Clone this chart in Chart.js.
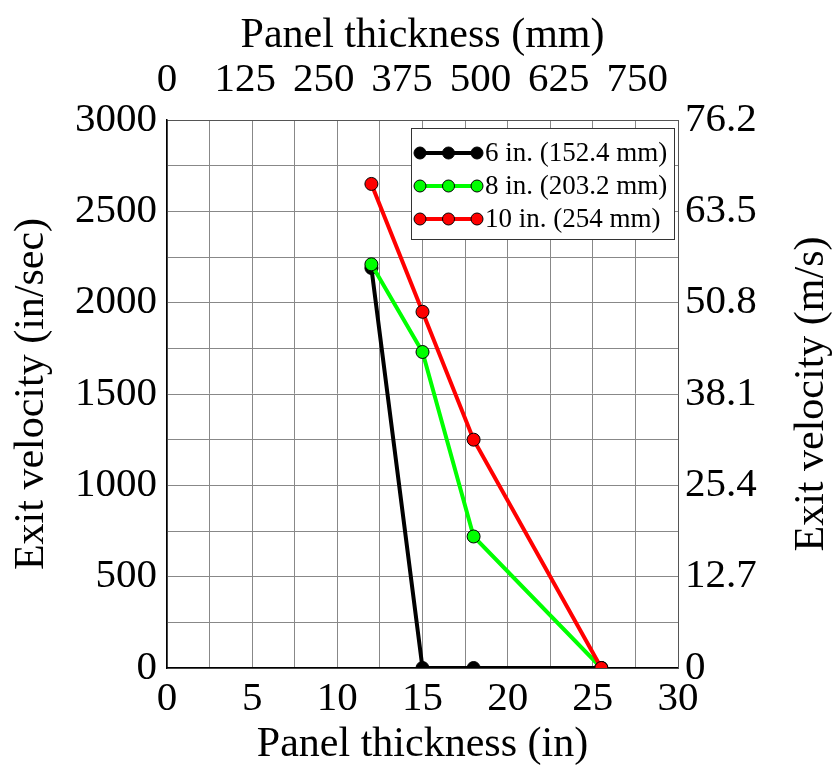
<!DOCTYPE html>
<html>
<head>
<meta charset="utf-8">
<script src="https://cdn.jsdelivr.net/npm/chart.js@4"></script>
<style>
  html, body { margin: 0; padding: 0; background: #fff; }
  #wrap { width: 834px; height: 770px; }
</style>
</head>
<body>
<div id="wrap"><canvas id="myChart" width="834" height="770"></canvas></div>
<script>
// panel thickness (in) for each test
var thickness = [12, 15, 18, 25.5];
// exit velocity (in/sec) per projectile length
var vel6 = [2190, 0, 0, 0];
var vel8 = [2210, 1730, 720, 0];
var vel10 = [2650, 1950, 1250, 0];

var seriesNames = ["6 in. (152.4 mm)", "8 in. (203.2 mm)", "10 in. (254 mm)"];
var seriesColors = ["#000000", "#00ff00", "#ff0000"];

var mmTicks = [0, 125, 250, 375, 500, 625, 750];
var msTicks = [0, 12.7, 25.4, 38.1, 50.8, 63.5, 76.2];
var rightTitle = "Exit velocity (m/s)";

var FONT = "'Liberation Serif', 'Times New Roman', serif";

function toPoints(xs, ys) {
  return xs.map(function (x, i) { return { x: x, y: ys[i] }; });
}

function makeSet(idx, vals, order) {
  return {
    label: seriesNames[idx],
    data: toPoints(thickness, vals),
    borderColor: seriesColors[idx],
    backgroundColor: seriesColors[idx],
    pointBackgroundColor: seriesColors[idx],
    pointBorderColor: "#000",
    pointBorderWidth: 1,
    pointRadius: 6.5,
    borderWidth: 4,
    fill: false,
    tension: 0,
    order: order,
    xAxisID: "x",
    yAxisID: "y"
  };
}

// legend box with line + three dots, and the right title read bottom-up
var boxLegend = {
  id: "boxLegend",
  afterDraw: function (chart) {
    var ctx = chart.ctx;
    var ds = chart.data.datasets;
    ctx.save();
    ctx.fillStyle = "#fff";
    ctx.fillRect(411, 128, 263, 111);
    ctx.strokeStyle = "#333";
    ctx.lineWidth = 1;
    ctx.strokeRect(411.5, 128.5, 263, 111);
    var rows = [153, 186, 219];
    ctx.font = "27px " + FONT;
    ctx.textBaseline = "middle";
    for (var i = 0; i < ds.length; i++) {
      var y = rows[i];
      ctx.strokeStyle = ds[i].borderColor;
      ctx.lineWidth = 4;
      ctx.beginPath();
      ctx.moveTo(420, y);
      ctx.lineTo(477, y);
      ctx.stroke();
      [420, 448.5, 477].forEach(function (x) {
        ctx.beginPath();
        ctx.arc(x, y, 6, 0, Math.PI * 2);
        ctx.fillStyle = ds[i].pointBackgroundColor;
        ctx.fill();
        ctx.lineWidth = 1;
        ctx.strokeStyle = "#000";
        ctx.stroke();
      });
      ctx.fillStyle = "#000";
      ctx.fillText(ds[i].label, 485, y + 1);
    }

    var area = chart.chartArea;
    ctx.translate(812, (area.top + area.bottom) / 2);
    ctx.rotate(-Math.PI / 2);
    ctx.font = "42px " + FONT;
    ctx.textAlign = "center";
    ctx.textBaseline = "middle";
    ctx.fillStyle = "#000";
    ctx.fillText(rightTitle, 0, 0);
    ctx.restore();
  }
};

var config = {
  type: "line",
  data: {
    datasets: [makeSet(0, vel6, 3), makeSet(1, vel8, 2), makeSet(2, vel10, 1)]
  },
  options: {
    responsive: false,
    animation: false,
    layout: { padding: 0 },
    plugins: { legend: { display: false }, tooltip: { enabled: false } },
    scales: {
      x: {
        type: "linear",
        position: "bottom",
        min: 0, max: 30,
        afterFit: function (s) { s.height = 102; },
        grid: { color: "#888", lineWidth: 1, drawTicks: false },
        border: { color: "#000", width: 1.5 },
        ticks: {
          stepSize: 2.5, padding: 7, color: "#000", autoSkip: false, maxRotation: 0,
          font: { family: FONT, size: 41 },
          callback: function (v) { return v % 5 === 0 ? v : ""; }
        },
        title: {
          display: true, text: "Panel thickness (in)", color: "#000",
          font: { family: FONT, size: 42, lineHeight: 1.1 },
          padding: { top: 0, bottom: 2 }
        }
      },
      x2: {
        type: "linear",
        position: "top",
        min: 0, max: 815,
        afterBuildTicks: function (s) { s.ticks = mmTicks.map(function (v) { return { value: v }; }); },
        afterFit: function (s) { s.height = 120; },
        grid: { display: false, drawTicks: false },
        border: { color: "#555", width: 1 },
        ticks: {
          padding: 15, color: "#000", autoSkip: false, maxRotation: 0,
          font: { family: FONT, size: 41 }
        },
        title: {
          display: true, text: "Panel thickness (mm)", color: "#000",
          font: { family: FONT, size: 42, lineHeight: 1.1 },
          padding: { top: 13, bottom: 0 }
        }
      },
      y: {
        type: "linear",
        position: "left",
        min: 0, max: 3000,
        afterFit: function (s) { s.width = 167; },
        grid: { color: "#888", lineWidth: 1, drawTicks: false },
        border: { color: "#000", width: 1.5 },
        ticks: {
          stepSize: 250, padding: 10, color: "#000", autoSkip: false,
          font: { family: FONT, size: 41 },
          callback: function (v) { return v % 500 === 0 ? v : ""; }
        },
        title: {
          display: true, text: "Exit velocity (in/sec)", color: "#000",
          font: { family: FONT, size: 42, lineHeight: 1.1 },
          padding: { top: 9, bottom: 0 }
        }
      },
      y2: {
        type: "linear",
        position: "right",
        min: 0, max: 76.2,
        afterBuildTicks: function (s) { s.ticks = msTicks.map(function (v) { return { value: v }; }); },
        afterFit: function (s) { s.width = 156; },
        grid: { display: false, drawTicks: false },
        border: { color: "#555", width: 1 },
        ticks: {
          padding: 7, color: "#000", autoSkip: false,
          font: { family: FONT, size: 41 },
          callback: function (v) { return v === 0 ? "0" : v.toFixed(1); }
        },
        title: { display: false }
      }
    }
  },
  plugins: [boxLegend]
};

var myChart = new Chart(document.getElementById("myChart").getContext("2d"), config);
</script>
</body>
</html>
